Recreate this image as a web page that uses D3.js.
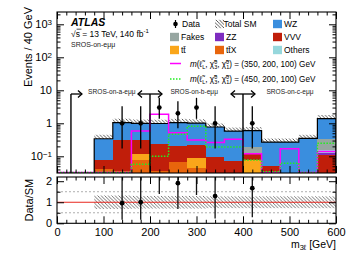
<!DOCTYPE html>
<html>
<head>
<meta charset="utf-8">
<script src="https://cdn.jsdelivr.net/npm/d3@7"></script>
<style>
  body { margin: 0; background: #fff; }
  svg { display: block; font-family: "Liberation Sans", Arial, Helvetica, sans-serif; }
</style>
</head>
<body>
<div id="chart"></div>
<script>
// ---- data ----
const binLow = [0, 40, 80, 120, 160, 200, 240, 280, 320, 360, 400, 440, 480, 520, 560];
const binWidth = 40;

const ttxVals    = [0, 0, 0.040, 0.035, 0.077, 0.035, 0.066, 0.043, 0.020, 0.015, 0, 0.010, 0, 0, 0.010];
const ttbarVals  = [0, 0, 0, 0, 0.043, 0, 0, 0.043, 0, 0, 0.077, 0, 0, 0, 0];
const vvvVals    = [0, 0, 0.036, 0.28, 0.20, 0.20, 0.134, 0.13, 0.074, 0.055, 0.050, 0.040, 0.010, 0.010, 0.096];
const zzVals     = [0, 0, 0, 0, 0, 0, 0, 0, 0, 0, 0, 0, 0, 0, 0.020];
const othersVals = [0, 0, 0, 0, 0, 0, 0, 0, 0, 0, 0, 0, 0, 0, 0.025];
const fakesVals  = [0, 0, 0, 0, 0, 0, 0, 0, 0, 0, 0.063, 0, 0, 0, 0.18];
const wzVals     = [0, 0, 0.264, 0.73, 0.68, 0.75, 0.85, 0.80, 0.68, 0.51, 0.41, 0.22, 0.26, 0.34, 1.06];
const relUnc     = [0, 0, 0.32, 0.32, 0.30, 0.30, 0.30, 0.30, 0.28, 0.28, 0.28, 0.28, 0.28, 0.28, 0.28];

const dataVals   = [0, 0, 0, 1, 1, 3, 2, 3, 1, 0, 1, 0, 0, 0, 0];
const dataLow    = [0, 0, 0, 0.173, 0.173, 1.367, 0.708, 1.367, 0.173, 0, 0.173, 0, 0, 0, 0];
const dataHigh   = [0, 0, 0, 3.30, 3.30, 5.918, 4.638, 5.918, 3.30, 0, 3.30, 0, 0, 0, 0];

const sig350Vals = [0, 0, 0, 0, 0.58, 1.87, 0.52, 0.31, 0.26, 0.33, 0.12, 0, 0.17, 0, 0.14];
const sig450Vals = [0, 0, 0, 0, 0.057, 0.10, 0.47, 0.81, 0.19, 0.19, 0.077, 0.034, 0.062, 0, 0.25];

const regionCuts  = [30, 200, 400];
const regionNames = ['SROS-on-a-eμμ', 'SROS-on-b-eμμ', 'SROS-on-c-eμμ'];

const xTicks     = [0, 100, 200, 300, 400, 500, 600];
const mainYTicks = [0.1, 1, 10, 100, 1000];
const ratioTicks = [0, 1, 2];

// ---- stack setup (bottom -> top) ----
const stack = [
  { name: 'ttX',    vals: ttxVals,    color: '#e8650c' },
  { name: 'ttbar',  vals: ttbarVals,  color: '#faa61a' },
  { name: 'VVV',    vals: vvvVals,    color: '#c01e0a' },
  { name: 'ZZ',     vals: zzVals,     color: '#7d2cbf' },
  { name: 'Others', vals: othersVals, color: '#96d7dc' },
  { name: 'Fakes',  vals: fakesVals,  color: '#97a6a1' },
  { name: 'WZ',     vals: wzVals,     color: '#3a8ede' }
];
const totals = binLow.map((b, i) => d3.sum(stack, s => s.vals[i]));

// ---- layout ----
const W = 354, H = 254;
const left = 57, right = 336;
const mainTop = 12, mainBot = 173;
const ratTop = 177, ratBot = 223.3;
const yMin = 0.0312;

const svg = d3.select('#chart').append('svg')
  .attr('width', W).attr('height', H);

const x = d3.scaleLinear().domain([0, 600]).range([left, right]);
const y = d3.scaleLog().domain([yMin, 2360]).range([mainBot, mainTop]);
const yr = d3.scaleLinear().domain([0, 2.2]).range([ratBot, ratTop]);

const defs = svg.append('defs');
function hatch(id, col) {
  defs.append('pattern')
    .attr('id', id)
    .attr('patternUnits', 'userSpaceOnUse')
    .attr('width', 3.5).attr('height', 3.5)
    .append('path')
    .attr('d', 'M0,0 L3.5,3.5 M-1,2.5 L1,4.5 M2.5,-1 L4.5,1')
    .attr('stroke', col).attr('stroke-width', 0.75);
}
hatch('hatch', '#222');
hatch('hatchR', '#444');

defs.append('clipPath').attr('id', 'clipMain')
  .append('rect').attr('x', left).attr('y', mainTop)
  .attr('width', right - left).attr('height', mainBot - mainTop);
defs.append('clipPath').attr('id', 'clipRat')
  .append('rect').attr('x', left).attr('y', ratTop)
  .attr('width', right - left).attr('height', ratBot - ratTop);

const cy = v => y(Math.max(v, yMin));

// ===== main panel =====
const gm = svg.append('g').attr('clip-path', 'url(#clipMain)');

// uncertainty band (only the part above the stack stays visible)
binLow.forEach((b, i) => {
  if (totals[i] <= 0) return;
  gm.append('rect')
    .attr('x', x(b)).attr('width', x(b + binWidth) - x(b))
    .attr('y', y(totals[i] * (1 + relUnc[i])))
    .attr('height', y(totals[i] * (1 - relUnc[i])) - y(totals[i] * (1 + relUnc[i])))
    .attr('fill', 'url(#hatch)');
});

// stacked backgrounds
binLow.forEach((b, i) => {
  let cum = 0;
  stack.forEach(s => {
    const v = s.vals[i];
    if (v <= 0) return;
    const top = cum + v;
    gm.append('rect')
      .attr('x', x(b)).attr('width', x(b + binWidth) - x(b))
      .attr('y', cy(top))
      .attr('height', cy(cum) - cy(top) + (cum <= 0 ? 2 : 0))
      .attr('fill', s.color)
      .attr('shape-rendering', 'crispEdges');
    cum = top;
  });
});

// total SM outline
(function () {
  const idx = binLow.map((b, i) => i).filter(i => totals[i] > 0);
  const p = d3.path();
  p.moveTo(x(binLow[idx[0]]), mainBot + 2);
  idx.forEach(i => {
    p.lineTo(x(binLow[i]), y(totals[i]));
    p.lineTo(x(binLow[i] + binWidth), y(totals[i]));
  });
  p.lineTo(x(binLow[idx[idx.length - 1]] + binWidth), mainBot + 2);
  gm.append('path').attr('d', p.toString())
    .attr('fill', 'none').attr('stroke', '#000').attr('stroke-width', 1.2);
})();

// signal step lines
function stepPath(vals) {
  const p = d3.path();
  vals.forEach((v, i) => {
    const yy = v > 0 ? y(v) : mainBot - 0.6;
    if (i === 0) p.moveTo(x(binLow[i]), yy); else p.lineTo(x(binLow[i]), yy);
    p.lineTo(x(binLow[i] + binWidth), yy);
  });
  return p.toString();
}
gm.append('path').attr('d', stepPath(sig350Vals))
  .attr('fill', 'none').attr('stroke', '#ff00ff').attr('stroke-width', 1.5);
gm.append('path').attr('d', stepPath(sig450Vals))
  .attr('fill', 'none').attr('stroke', '#22ee22').attr('stroke-width', 1.5)
  .attr('stroke-dasharray', '1.5,1.5');

// region separators with arrows
const arrowY = 94;
function chevron(g, xx, dir) {
  g.append('path')
    .attr('d', `M${xx - dir * 4},${arrowY - 3.5} L${xx},${arrowY} L${xx - dir * 4},${arrowY + 3.5}`)
    .attr('fill', 'none').attr('stroke', '#000').attr('stroke-width', 1.3);
}
const ga = svg.append('g');
regionCuts.forEach((c, k) => {
  const xc = x(c);
  ga.append('line').attr('x1', xc).attr('x2', xc)
    .attr('y1', mainBot).attr('y2', arrowY)
    .attr('stroke', '#000').attr('stroke-width', 1.4);
  const xl = k === 0 ? xc : xc - 12;
  const xr = k === 0 ? xc + 11 : xc + 12;
  ga.append('line').attr('x1', xl).attr('x2', xr)
    .attr('y1', arrowY).attr('y2', arrowY)
    .attr('stroke', '#000').attr('stroke-width', 1.3);
  chevron(ga, xr, 1);
  if (k > 0) chevron(ga, xl, -1);
});
const regionLabelGeV = [118, 295, 501];
regionNames.forEach((n, k) => {
  svg.append('text')
    .attr('x', x(regionLabelGeV[k])).attr('y', 93.5)
    .attr('text-anchor', 'middle')
    .attr('font-size', 6.6)
    .attr('fill', '#222')
    .text(n);
});

// data
const gd = svg.append('g');
binLow.forEach((b, i) => {
  if (dataVals[i] <= 0) return;
  const xc = x(b + binWidth / 2);
  gd.append('line').attr('x1', xc).attr('x2', xc)
    .attr('y1', Math.min(cy(dataLow[i]), mainBot)).attr('y2', y(dataHigh[i]))
    .attr('stroke', '#000').attr('stroke-width', 1.3);
  gd.append('circle').attr('cx', xc).attr('cy', y(dataVals[i])).attr('r', 2.4).attr('fill', '#000');
});

// ===== ratio panel =====
const gr = svg.append('g').attr('clip-path', 'url(#clipRat)');
[0.5, 1.5].forEach(v => {
  gr.append('line').attr('x1', left).attr('x2', right)
    .attr('y1', yr(v)).attr('y2', yr(v))
    .attr('stroke', '#999').attr('stroke-width', 0.8).attr('stroke-dasharray', '2,2');
});
binLow.forEach((b, i) => {
  if (totals[i] <= 0) return;
  gr.append('rect')
    .attr('x', x(b)).attr('width', x(b + binWidth) - x(b))
    .attr('y', yr(1 + relUnc[i]))
    .attr('height', yr(1 - relUnc[i]) - yr(1 + relUnc[i]))
    .attr('fill', 'url(#hatchR)');
});
gr.append('line').attr('x1', left).attr('x2', right)
  .attr('y1', yr(1)).attr('y2', yr(1))
  .attr('stroke', '#e8271f').attr('stroke-width', 1);
binLow.forEach((b, i) => {
  if (dataVals[i] <= 0) return;
  const xc = x(b + binWidth / 2);
  gr.append('line').attr('x1', xc).attr('x2', xc)
    .attr('y1', yr(dataLow[i] / totals[i])).attr('y2', yr(dataHigh[i] / totals[i]))
    .attr('stroke', '#111').attr('stroke-width', 1.3);
  gr.append('circle').attr('cx', xc).attr('cy', yr(dataVals[i] / totals[i])).attr('r', 2.4).attr('fill', '#000');
});

// ===== axes =====
function styleAxis(g) {
  g.select('.domain').remove();
  g.selectAll('line').attr('stroke', '#000');
  g.attr('font-family', null).attr('font-size', 11);
}
const minorLog = y.ticks().filter(v => mainYTicks.indexOf(v) < 0 && v >= yMin);
const minorX = d3.range(0, 601, 20).filter(v => v % 100 !== 0);

// main y
svg.append('g').attr('transform', `translate(${left},0)`)
  .call(d3.axisLeft(y).tickValues(mainYTicks).tickSizeInner(-7).tickSizeOuter(0).tickPadding(5)
    .tickFormat(() => ''))
  .call(styleAxis)
  .call(g => g.selectAll('.tick text').each(function (d) {
    const t = d3.select(this);
    if (d === 1) { t.text('1'); return; }
    if (d === 10) { t.text('10'); return; }
    const e = Math.round(Math.log10(d));
    t.append('tspan').text('10');
    t.append('tspan').attr('dy', '-0.45em').attr('font-size', 8).text(e < 0 ? '−1' : String(e));
  }));
svg.append('g').attr('transform', `translate(${left},0)`)
  .call(d3.axisLeft(y).tickValues(minorLog).tickSizeInner(-3.5).tickSizeOuter(0).tickFormat(''))
  .call(styleAxis);
svg.append('g').attr('transform', `translate(${right},0)`)
  .call(d3.axisRight(y).tickValues(mainYTicks).tickSizeInner(-7).tickSizeOuter(0).tickFormat(''))
  .call(styleAxis);
svg.append('g').attr('transform', `translate(${right},0)`)
  .call(d3.axisRight(y).tickValues(minorLog).tickSizeInner(-3.5).tickSizeOuter(0).tickFormat(''))
  .call(styleAxis);

// x axes for both panels, top and bottom
[[mainBot, 'b'], [mainTop, 't'], [ratBot, 'b'], [ratTop, 't']].forEach(([yy, side], k) => {
  const mk = side === 'b' ? d3.axisBottom : d3.axisTop;
  svg.append('g').attr('transform', `translate(0,${yy})`)
    .call(mk(x).tickValues(xTicks).tickSizeInner(-7).tickSizeOuter(0).tickPadding(4.5)
      .tickFormat(k === 2 ? d3.format('d') : () => ''))
    .call(styleAxis);
  svg.append('g').attr('transform', `translate(0,${yy})`)
    .call(mk(x).tickValues(minorX).tickSizeInner(-3.5).tickSizeOuter(0).tickFormat(''))
    .call(styleAxis);
});

// ratio y
svg.append('g').attr('transform', `translate(${left},0)`)
  .call(d3.axisLeft(yr).tickValues(ratioTicks).tickSizeInner(-7).tickSizeOuter(0).tickPadding(5)
    .tickFormat(d3.format('d')))
  .call(styleAxis);
svg.append('g').attr('transform', `translate(${left},0)`)
  .call(d3.axisLeft(yr).tickValues([0.5, 1.5]).tickSizeInner(-3.5).tickSizeOuter(0).tickFormat(''))
  .call(styleAxis);
svg.append('g').attr('transform', `translate(${right},0)`)
  .call(d3.axisRight(yr).tickValues(ratioTicks).tickSizeInner(-7).tickSizeOuter(0).tickFormat(''))
  .call(styleAxis);
svg.append('g').attr('transform', `translate(${right},0)`)
  .call(d3.axisRight(yr).tickValues([0.5, 1.5]).tickSizeInner(-3.5).tickSizeOuter(0).tickFormat(''))
  .call(styleAxis);

// frames
[[mainTop, mainBot], [ratTop, ratBot]].forEach(([t, b]) => {
  svg.append('rect').attr('x', left).attr('y', t)
    .attr('width', right - left).attr('height', b - t)
    .attr('fill', 'none').attr('stroke', '#000').attr('stroke-width', 1.1);
});

// axis titles
svg.append('text')
  .attr('transform', 'translate(31.5,7) rotate(-90)')
  .attr('text-anchor', 'end').attr('font-size', 11)
  .text('Events / 40 GeV');
svg.append('text')
  .attr('transform', `translate(33,${(ratTop + ratBot) / 2}) rotate(-90)`)
  .attr('text-anchor', 'middle').attr('font-size', 11)
  .text('Data/SM');
const xt = svg.append('text').attr('x', right).attr('y', 247.5)
  .attr('text-anchor', 'end').attr('font-size', 10.5);
xt.append('tspan').text('m');
xt.append('tspan').attr('font-size', 7.5).attr('dy', 2).text('3ℓ');
xt.append('tspan').attr('dy', -2).text(' [GeV]');

// ATLAS label
svg.append('text').attr('x', 71).attr('y', 26)
  .attr('font-size', 10.5).attr('font-weight', 'bold').attr('font-style', 'italic')
  .text('ATLAS');
const en = svg.append('text').attr('x', 71).attr('y', 36.5).attr('font-size', 8.5);
en.append('tspan').text('√s = 13 TeV, 140 fb');
en.append('tspan').attr('dy', -3.5).attr('font-size', 6).text('-1');
svg.append('line').attr('x1', 76.6).attr('x2', 81.5).attr('y1', 29.2).attr('y2', 29.2)
  .attr('stroke', '#000').attr('stroke-width', 0.7);
svg.append('text').attr('x', 71).attr('y', 47).attr('font-size', 7).attr('fill', '#222')
  .text('SROS-on-eμμ');

// ===== legend =====
const lg = svg.append('g').attr('font-size', 8.5);
const colX = [170, 215, 273];
const rowY = [24, 37, 50];
function boxEntry(ci, ri, color, label) {
  lg.append('rect').attr('x', colX[ci]).attr('y', rowY[ri] - 4.2)
    .attr('width', 9).attr('height', 8.4).attr('fill', color);
  lg.append('text').attr('x', colX[ci] + 11).attr('y', rowY[ri] + 3).text(label);
}
// Data
lg.append('line').attr('x1', 175.5).attr('x2', 175.5).attr('y1', rowY[0] - 4).attr('y2', rowY[0] + 4)
  .attr('stroke', '#000').attr('stroke-width', 1.2);
lg.append('circle').attr('cx', 175.5).attr('cy', rowY[0]).attr('r', 2.3);
lg.append('text').attr('x', colX[0] + 12).attr('y', rowY[0] + 3).text('Data');
// Total SM
lg.append('rect').attr('x', colX[1]).attr('y', rowY[0] - 4.2)
  .attr('width', 9).attr('height', 8.4).attr('fill', 'url(#hatch)');
lg.append('text').attr('x', colX[1] + 8.5).attr('y', rowY[0] + 3).text('Total SM');
boxEntry(2, 0, '#3a8ede', 'WZ');
boxEntry(0, 1, '#97a6a1', 'Fakes');
boxEntry(1, 1, '#7d2cbf', 'ZZ');
boxEntry(2, 1, '#c01e0a', 'VVV');
boxEntry(0, 2, '#faa61a', 'tt̄');
boxEntry(1, 2, '#e8650c', 'tt̄X');
boxEntry(2, 2, '#96d7dc', 'Others');

function sigEntry(yy, color, dash, masses) {
  lg.append('line').attr('x1', 170).attr('x2', 181).attr('y1', yy).attr('y2', yy)
    .attr('stroke', color).attr('stroke-width', 1.5).attr('stroke-dasharray', dash);
  const t = lg.append('text').attr('x', 190).attr('y', yy + 3).attr('font-size', 8.2);
  t.append('tspan').attr('font-style', 'italic').text('m');
  t.append('tspan').text('(ℓ̃');
  t.append('tspan').attr('font-size', 5.5).attr('dy', 2).text('L');
  t.append('tspan').attr('dy', -2).text(', χ̃');
  t.append('tspan').attr('font-size', 5.5).attr('dy', -3).text('0');
  t.append('tspan').attr('font-size', 5.5).attr('dx', -3).attr('dy', 5).text('3');
  t.append('tspan').attr('dy', -2).text(', χ̃');
  t.append('tspan').attr('font-size', 5.5).attr('dy', -3).text('0');
  t.append('tspan').attr('font-size', 5.5).attr('dx', -3).attr('dy', 5).text('1');
  t.append('tspan').attr('dy', -2).text(') = ' + masses + ' GeV');
}
sigEntry(63.5, '#ff00ff', null, '(350, 200, 100)');
sigEntry(79, '#22ee22', '1.5,1.5', '(450, 200, 100)');
</script>
</body>
</html>
